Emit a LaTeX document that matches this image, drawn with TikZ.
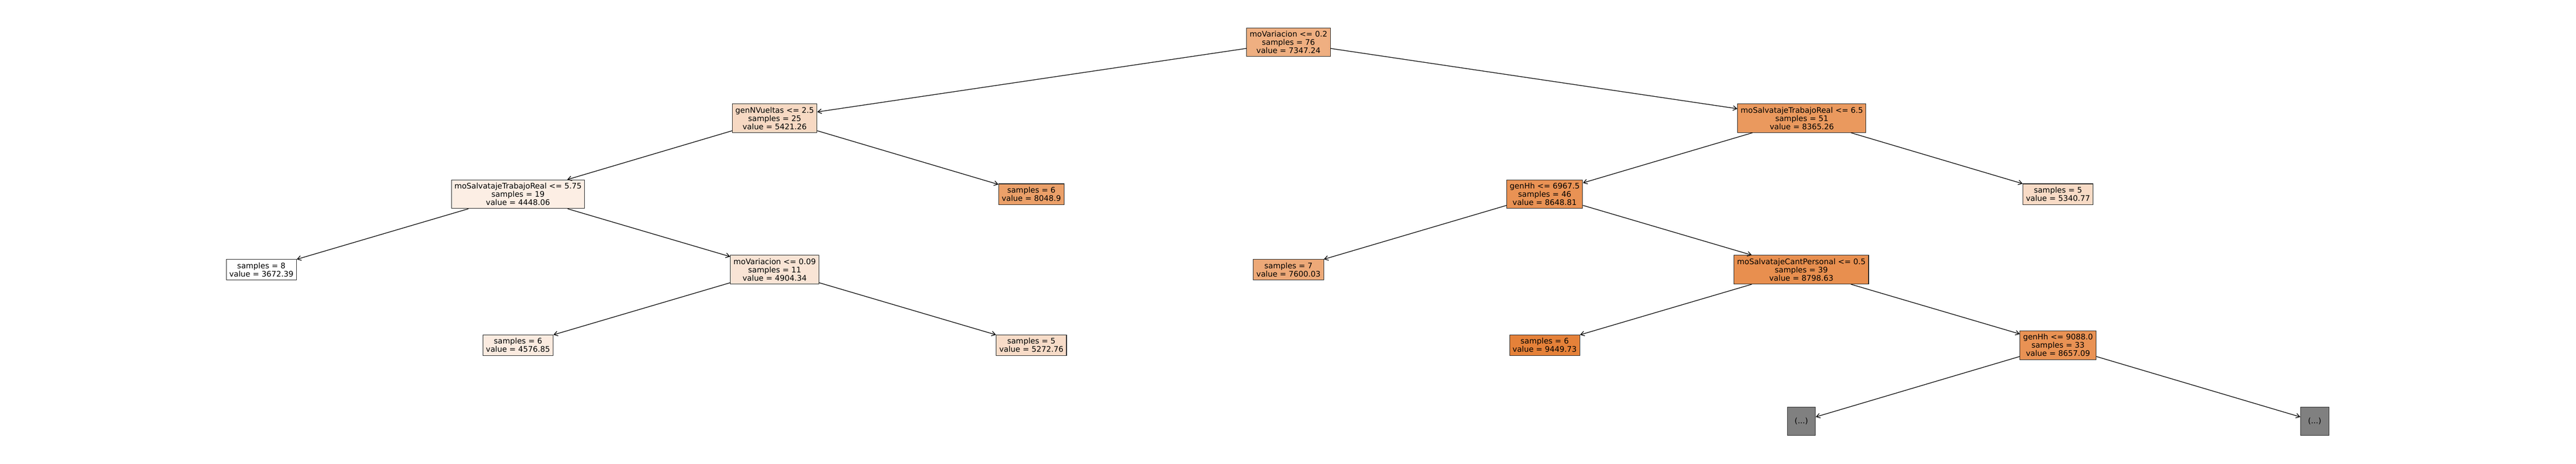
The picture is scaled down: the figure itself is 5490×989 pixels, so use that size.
\documentclass[tikz,border=0pt]{standalone}
\usepackage{fontspec}
\setmainfont{DejaVu Sans}
\usetikzlibrary{positioning,arrows.meta}
\definecolor{v0}{RGB}{239,175,129}
\definecolor{v1}{RGB}{247,217,195}
\definecolor{v2}{RGB}{234,153,94}
\definecolor{v11}{RGB}{252,238,228}
\definecolor{v12}{RGB}{235,160,105}
\definecolor{v112}{RGB}{249,228,213}
\definecolor{v1121}{RGB}{251,235,224}
\definecolor{v1122}{RGB}{248,220,200}
\definecolor{v21}{RGB}{233,146,84}
\definecolor{v22}{RGB}{248,219,198}
\definecolor{v211}{RGB}{237,169,120}
\definecolor{v212}{RGB}{232,143,79}
\definecolor{v2121}{RGB}{229,129,57}
\definecolor{v2122}{RGB}{233,146,84}

\begin{document}
\begin{tikzpicture}[
  x=0.5pt, y=-0.5pt,
  font=\fontsize{8.2}{8.75}\selectfont,
  mynode/.style={draw=black!85,line width=0.6pt,rectangle,align=center,inner xsep=3.2pt,inner ysep=2.4pt,minimum height=30.5pt},
  myleaf/.style={mynode,minimum height=22pt},
  mydots/.style={draw=black!85,line width=0.6pt,fill=gray,minimum width=30pt,minimum height=30.5pt,inner sep=0pt},
  myedge/.style={line width=0.7pt,-{Straight Barb[length=4pt,width=5pt]}}
]
\useasboundingbox (0,0) rectangle (5490,989);
\node[mynode,fill=v0] (s0) at (2746,90) {moVariacion <= 0.2\\samples = 76\\value = 7347.24};
\node[mynode,fill=v1] (s1) at (1651,252) {genNVueltas <= 2.5\\samples = 25\\value = 5421.26};
\node[mynode,fill=v2] (s2) at (3840,252) {moSalvatajeTrabajoReal <= 6.5\\samples = 51\\value = 8365.26};
\node[mynode,fill=v11] (s11) at (1104,414) {moSalvatajeTrabajoReal <= 5.75\\samples = 19\\value = 4448.06};
\node[myleaf,fill=v12] (s12) at (2198,414) {samples = 6\\value = 8048.9};
\node[myleaf,fill=white] (s111) at (557,575) {samples = 8\\value = 3672.39};
\node[mynode,fill=v112] (s112) at (1651,575) {moVariacion <= 0.09\\samples = 11\\value = 4904.34};
\node[myleaf,fill=v1121] (s1121) at (1104,736) {samples = 6\\value = 4576.85};
\node[myleaf,fill=v1122] (s1122) at (2198,736) {samples = 5\\value = 5272.76};
\node[mynode,fill=v21] (s21) at (3292,414) {genHh <= 6967.5\\samples = 46\\value = 8648.81};
\node[myleaf,fill=v22] (s22) at (4386,414) {samples = 5\\value = 5340.77};
\node[myleaf,fill=v211] (s211) at (2746,575) {samples = 7\\value = 7600.03};
\node[mynode,fill=v212] (s212) at (3839,575) {moSalvatajeCantPersonal <= 0.5\\samples = 39\\value = 8798.63};
\node[myleaf,fill=v2121] (s2121) at (3292,736) {samples = 6\\value = 9449.73};
\node[mynode,fill=v2122] (s2122) at (4386,736) {genHh <= 9088.0\\samples = 33\\value = 8657.09};
\node[mydots] (s21221) at (3839,898) {(...)};
\node[mydots] (s21222) at (4933,898) {(...)};
\path (s0) edge[myedge] (s1)
(s0) edge[myedge] (s2)
(s1) edge[myedge] (s11)
(s1) edge[myedge] (s12)
(s11) edge[myedge] (s111)
(s11) edge[myedge] (s112)
(s112) edge[myedge] (s1121)
(s112) edge[myedge] (s1122)
(s2) edge[myedge] (s21)
(s2) edge[myedge] (s22)
(s21) edge[myedge] (s211)
(s21) edge[myedge] (s212)
(s212) edge[myedge] (s2121)
(s212) edge[myedge] (s2122)
(s2122) edge[myedge] (s21221)
(s2122) edge[myedge] (s21222);
\end{tikzpicture}
\end{document}
